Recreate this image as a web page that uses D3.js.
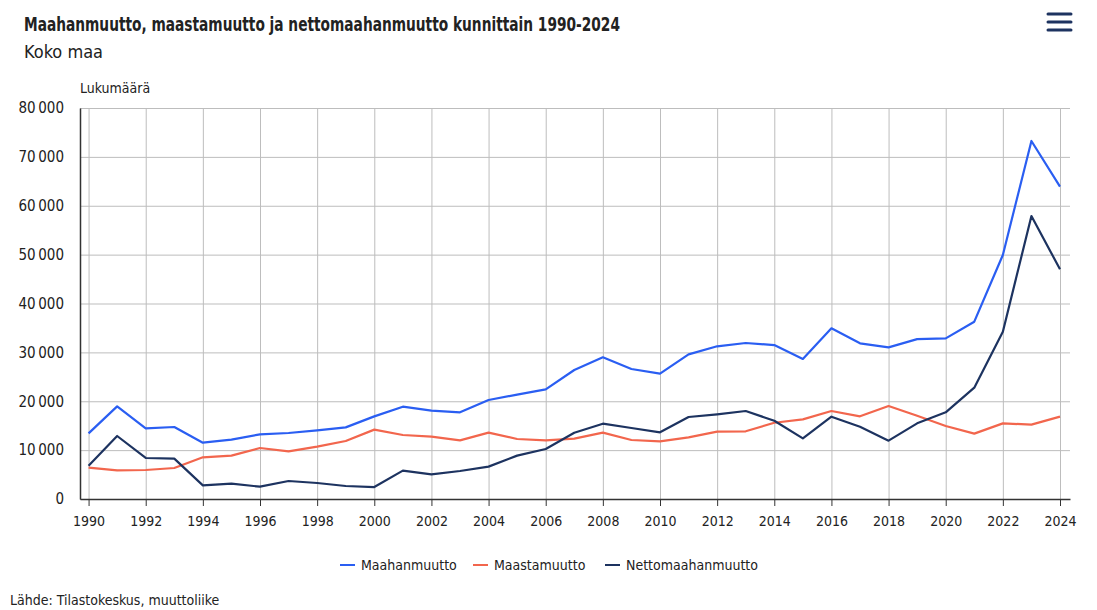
<!DOCTYPE html>
<html lang="fi">

<head>
    <meta charset="utf-8">
    <script src='https://d3js.org/d3.v7.min.js'></script>
    <style>
        body { margin: 0; background: #fff; }
        svg text { fill: #222; font-family: "DejaVu Sans", sans-serif; font-stretch: condensed; }
        .grid line { stroke: #bdbdbd; stroke-width: 1; }
        .grid path { display: none; }
    </style>
</head>

<body>
    <script>
        // vuodet ja sarjat
        let years = d3.range(1990, 2025);

        let maahanmuutto = [13430, 18960, 14460, 14730, 11520, 12140, 13230, 13500, 14050, 14660,
            16910, 18890, 18070, 17730, 20260, 21350, 22440, 26390, 28990, 26600,
            25640, 29600, 31240, 31920, 31500, 28650, 34920, 31850, 31030, 32700,
            32870, 36280, 49920, 73250, 63900];

        let maastamuutto = [6410, 5860, 5930, 6340, 8530, 8870, 10430, 9750, 10710, 11870,
            14190, 13090, 12750, 12000, 13570, 12280, 12000, 12340, 13570, 12070,
            11800, 12620, 13780, 13850, 15600, 16300, 18000, 16920, 19030, 17050,
            14940, 13370, 15480, 15210, 16850];

        let nettomaahanmuutto = [6820, 12890, 8390, 8250, 2790, 3140, 2520, 3680, 3270, 2660,
            2450, 5800, 5050, 5730, 6620, 8870, 10230, 13570, 15410, 14530,
            13640, 16780, 17330, 18000, 16020, 12410, 16840, 14800, 11940, 15480,
            17730, 22780, 34230, 57900, 47000];

        let seriesNames = ["Maahanmuutto", "Maastamuutto", "Nettomaahanmuutto"];
        let seriesColors = ["#2a5ef2", "#f2664d", "#1d3360"];
        let yTicks = [0, 10000, 20000, 30000, 40000, 50000, 60000, 70000, 80000];
        let xTicks = d3.range(1990, 2025, 2);

        var width = 1097, height = 610;
        var mLeft = 80, mRight = 1070, mTop = 108, mBottom = 499;

        var svg = d3.select("body").append("svg")
            .attr("width", width)
            .attr("height", height);

        var x = d3.scaleLinear().domain([1989.7, 2024.35]).range([mLeft, mRight]);
        var y = d3.scaleLinear().domain([0, 80000]).range([mBottom, mTop]);

        var fmt = function(d) {
            return d3.format(",")(d).replace(/,/g, "\u2009");
        };

        // ruudukko
        svg.append("g").attr("class", "grid")
            .attr("transform", "translate(0," + mBottom + ")")
            .call(d3.axisBottom(x).tickValues(xTicks).tickSize(-(mBottom - mTop)).tickFormat(""));
        svg.append("g").attr("class", "grid")
            .attr("transform", "translate(" + mLeft + ",0)")
            .call(d3.axisLeft(y).tickValues(yTicks).tickSize(-(mRight - mLeft)).tickFormat(""));

        // x-akseli
        var xa = svg.append("g")
            .attr("transform", "translate(0," + mBottom + ")")
            .call(d3.axisBottom(x).tickValues(xTicks).tickSize(7).tickSizeOuter(0).tickPadding(10).tickFormat(d3.format("d")));
        xa.select(".domain").attr("stroke", "#333").attr("stroke-width", 1.5);
        xa.selectAll(".tick line").attr("stroke", "#333");
        xa.selectAll("text").style("font-size", "14px").attr("fill", "#222");

        // y-akseli
        var ya = svg.append("g")
            .attr("transform", "translate(" + mLeft + ",0)")
            .call(d3.axisLeft(y).tickValues(yTicks).tickSize(0).tickPadding(16).tickFormat(fmt));
        ya.select(".domain").attr("stroke", "#333").attr("stroke-width", 1.5);
        ya.selectAll("text").style("font-size", "15px").attr("fill", "#222");

        // viivat
        var line = d3.line()
            .x(function(d, i) { return x(years[i]); })
            .y(function(d) { return y(d); });

        [maahanmuutto, maastamuutto, nettomaahanmuutto].forEach(function(s, k) {
            svg.append("path")
                .datum(s)
                .attr("d", line)
                .attr("fill", "none")
                .attr("stroke", seriesColors[k])
                .attr("stroke-width", 2.2)
                .attr("stroke-linejoin", "round");
        });

        // otsikot
        svg.append("text").attr("x", 24).attr("y", 31)
            .style("font-size", "19px").style("font-weight", "bold")
            .attr("textLength", 596).attr("lengthAdjust", "spacingAndGlyphs")
            .text("Maahanmuutto, maastamuutto ja nettomaahanmuutto kunnittain 1990-2024");
        svg.append("text").attr("x", 24).attr("y", 58)
            .style("font-size", "18px")
            .text("Koko maa");
        svg.append("text").attr("x", 80).attr("y", 93)
            .style("font-size", "14px")
            .text("Lukumäärä");

        // selite
        var legendX = [340, 473, 605];
        var leg = svg.selectAll(".leg").data(seriesNames).enter().append("g")
            .attr("transform", function(d, i) { return "translate(" + legendX[i] + ",565)"; });
        leg.append("line").attr("x1", 0).attr("x2", 15).attr("y1", 0).attr("y2", 0)
            .attr("stroke", function(d, i) { return seriesColors[i]; }).attr("stroke-width", 2);
        leg.append("text").attr("x", 21).attr("dy", "0.35em")
            .style("font-size", "14px")
            .text(function(d) { return d; });

        // lähde
        svg.append("text").attr("x", 10).attr("y", 605)
            .style("font-size", "14px")
            .text("Lähde: Tilastokeskus, muuttoliike");

        // valikko
        svg.selectAll(".menu").data([0, 1, 2]).enter().append("line")
            .attr("x1", 1048).attr("x2", 1071)
            .attr("y1", function(d) { return 14 + d * 8; })
            .attr("y2", function(d) { return 14 + d * 8; })
            .attr("stroke", "#1d3360").attr("stroke-width", 3).attr("stroke-linecap", "round");
    </script>
</body>

</html>
